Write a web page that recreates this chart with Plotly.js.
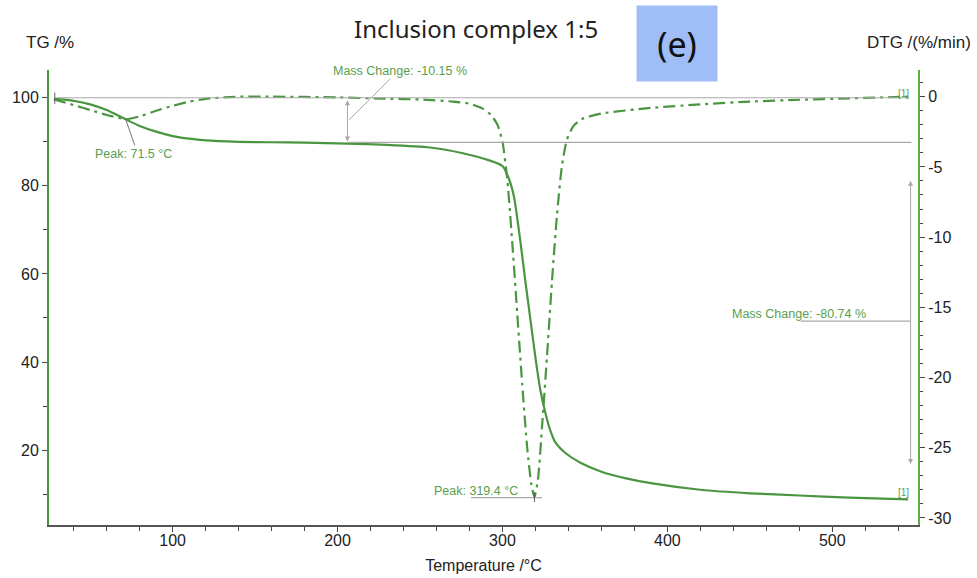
<!DOCTYPE html>
<html>
<head>
<meta charset="utf-8">
<script src="https://cdn.plot.ly/plotly-3.0.1.min.js"></script>
<style>html,body{margin:0;padding:0;background:#fff;}#chart{width:977px;height:578px;}</style>
</head>
<body>
<div id="chart"></div>
<script>
// TG curve (left axis, %)
const tgTemp = [28, 40, 50, 60, 71.5, 80, 90, 100, 110, 120, 140, 160, 180, 206, 230, 256, 276, 291, 300, 304, 307, 311, 314, 317, 320, 323, 326, 329, 332, 338, 347, 360, 375, 390, 420, 450, 480, 510, 546];
const tgValue = [99.8, 99.3, 98.5, 97.2, 95.1, 93.6, 92.3, 91.3, 90.7, 90.3, 90.0, 89.9, 89.8, 89.6, 89.3, 88.7, 87.4, 85.9, 84.5, 81.5, 77.5, 67.0, 58.0, 49.5, 41.0, 33.6, 28.5, 24.5, 21.8, 19.4, 17.2, 15.1, 13.6, 12.5, 11.0, 10.2, 9.7, 9.2, 8.8];

// DTG curve (right axis, %/min)
const dtgTemp = [28, 40, 50, 60, 71.5, 80, 90, 100, 110, 120, 140, 160, 200, 230, 250, 270, 280, 288, 293, 297, 300, 303, 306, 309, 312, 315, 317.5, 319.4, 321.5, 324, 327, 330, 333, 336, 339, 343, 348, 360, 390, 420, 450, 480, 510, 546];
const dtgValue = [-0.2, -0.6, -0.95, -1.3, -1.6, -1.4, -1.0, -0.65, -0.35, -0.15, 0.0, 0.0, -0.05, -0.15, -0.2, -0.35, -0.5, -0.85, -1.3, -2.0, -3.2, -6.0, -10.5, -15.5, -20.5, -25.0, -27.6, -28.5, -27.3, -23.5, -18.5, -13.2, -8.5, -5.0, -3.1, -2.1, -1.6, -1.2, -0.8, -0.55, -0.35, -0.22, -0.12, 0.0];

// Evaluation results
const step1 = {start: 100, end: 89.85, at: 206, label: "Mass Change: -10.15 %"};
const step2 = {at: 547.5, label: "Mass Change: -80.74 %"};
const peak1 = {t: 71.5, label: "Peak: 71.5 °C"};
const peak2 = {t: 319.4, label: "Peak: 319.4 °C"};

const xTickVals = [100, 200, 300, 400, 500];
const tgTickVals = [20, 40, 60, 80, 100];
const dtgTickVals = [-30, -25, -20, -15, -10, -5, 0];

const green = '#4a9640';
const annGreen = '#5a9e4e';
const gray = '#a8a8a8';
const lblFont = {family: 'Liberation Sans, Arial, sans-serif', size: 12.5, color: annGreen};

const traces = [
  {x: tgTemp, y: tgValue, type: 'scatter', mode: 'lines', xaxis: 'x', yaxis: 'y',
   line: {color: green, width: 2.2, shape: 'spline', smoothing: 0.6}, hoverinfo: 'skip'},
  {x: dtgTemp, y: dtgValue, type: 'scatter', mode: 'lines', xaxis: 'x', yaxis: 'y2',
   line: {color: green, width: 2.2, dash: '12px,5px,3px,5px', shape: 'spline', smoothing: 0.6}, hoverinfo: 'skip'}
];

const tgAt = (t) => {
  for (let i = 1; i < tgTemp.length; i++) {
    if (t <= tgTemp[i]) { const f = (t - tgTemp[i-1]) / (tgTemp[i] - tgTemp[i-1]); return tgValue[i-1] + f * (tgValue[i] - tgValue[i-1]); }
  }
  return tgValue[tgValue.length - 1];
};
const dtgAt = (t) => {
  for (let i = 1; i < dtgTemp.length; i++) {
    if (t <= dtgTemp[i]) { const f = (t - dtgTemp[i-1]) / (dtgTemp[i] - dtgTemp[i-1]); return dtgValue[i-1] + f * (dtgValue[i] - dtgValue[i-1]); }
  }
  return dtgValue[dtgValue.length - 1];
};

const shapes = [
  {type: 'line', xref: 'x', yref: 'y', x0: 30, x1: 546, y0: step1.start, y1: step1.start, line: {color: gray, width: 1.2}},
  {type: 'line', xref: 'x', yref: 'y', x0: step1.at, x1: 548, y0: step1.end, y1: step1.end, line: {color: gray, width: 1.2}},
  {type: 'line', xref: 'x', yref: 'y', x0: step1.at + 1, x1: 232, y0: 95, y1: 104.3, line: {color: gray, width: 1}},
  {type: 'line', xref: 'x', yref: 'y', x0: peak1.t, x1: 77, y0: tgAt(peak1.t), y1: 89.2, line: {color: '#777', width: 1}},
  {type: 'line', xref: 'x', yref: 'y2', x0: 281, x1: 324, y0: -28.55, y1: -28.55, line: {color: gray, width: 1.2}},
  {type: 'line', xref: 'x', yref: 'y2', x0: peak2.t, x1: peak2.t, y0: dtgAt(peak2.t) - 0.35, y1: dtgAt(peak2.t) + 0.35, line: {color: '#555', width: 1}},
  {type: 'line', xref: 'x', yref: 'y', x0: 481, x1: step2.at, y0: 49.3, y1: 49.3, line: {color: gray, width: 1.2}},
  {type: 'line', xref: 'x', yref: 'y', x0: 28.5, x1: 28.5, y0: 98.6, y1: 101.2, line: {color: '#666', width: 1}}
];

const annotations = [
  {xref: 'paper', yref: 'paper', x: (476 - 49) / 869, y: 1, yshift: 42, text: 'Inclusion complex 1:5', showarrow: false,
   font: {family: 'Noto Sans, Lato, sans-serif', size: 24, color: '#222'}, xanchor: 'center', yanchor: 'middle'},
  {xref: 'paper', yref: 'paper', x: (677 - 49) / 869, y: 1, yshift: 27, text: '(e)', showarrow: false,
   font: {family: 'Noto Sans, Lato, sans-serif', size: 34, color: '#111'}, bgcolor: '#9fbdf6', width: 80, height: 75,
   xanchor: 'center', yanchor: 'middle', borderpad: 0},
  {xref: 'paper', yref: 'paper', x: -49 / 869, xshift: 24, y: 1, yshift: 28, text: 'TG /%', showarrow: false,
   font: {family: 'Liberation Sans, Arial, sans-serif', size: 17, color: '#222'}, xanchor: 'left', yanchor: 'middle'},
  {xref: 'paper', yref: 'paper', x: 1, xshift: 55, y: 1, yshift: 28, text: 'DTG /(%/min)', showarrow: false,
   font: {family: 'Liberation Sans, Arial, sans-serif', size: 17, color: '#222'}, xanchor: 'right', yanchor: 'middle'},
  {xref: 'x', yref: 'y', axref: 'x', ayref: 'y', x: step1.at, y: step1.end, ax: step1.at, ay: step1.start, text: '',
   showarrow: true, arrowside: 'end+start', arrowhead: 2, arrowsize: 1, arrowwidth: 1, arrowcolor: gray, standoff: 1, startstandoff: 1},
  {xref: 'x', yref: 'y', x: 238, y: 106.1, text: step1.label, showarrow: false, font: lblFont, xanchor: 'center', yanchor: 'middle'},
  {xref: 'x', yref: 'y', x: 76, y: 87.3, text: peak1.label, showarrow: false, font: lblFont, xanchor: 'center', yanchor: 'middle'},
  {xref: 'x', yref: 'y2', x: 284, y: -28.05, text: peak2.label, showarrow: false, font: lblFont, xanchor: 'center', yanchor: 'middle'},
  {xref: 'x', yref: 'y', axref: 'x', ayref: 'y', x: step2.at, y: 16.6, ax: step2.at, ay: 81.7, text: '',
   showarrow: true, arrowside: 'end+start', arrowhead: 2, arrowsize: 1, arrowwidth: 1, arrowcolor: gray, standoff: 1, startstandoff: 1},
  {xref: 'x', yref: 'y', x: 480, y: 50.9, text: step2.label, showarrow: false, font: lblFont, xanchor: 'center', yanchor: 'middle'},
  {xref: 'x', yref: 'y', x: 543, y: 101, text: '[1]', showarrow: false, font: {family: 'Liberation Sans, Arial, sans-serif', size: 10, color: annGreen}, xanchor: 'center', yanchor: 'middle'},
  {xref: 'x', yref: 'y', x: 543, y: 10.3, text: '[1]', showarrow: false, font: {family: 'Liberation Sans, Arial, sans-serif', size: 10, color: annGreen}, xanchor: 'center', yanchor: 'middle'}
];

const tickFont = {family: 'Liberation Sans, Arial, sans-serif', size: 16, color: '#222'};
const xFont = {family: 'Liberation Sans Narrow, Liberation Sans, Arial, sans-serif', size: 16, color: '#222'};

const layout = {
  width: 977, height: 578,
  margin: {l: 49, r: 59, t: 70, b: 53},
  paper_bgcolor: '#ffffff', plot_bgcolor: '#ffffff',
  showlegend: false,
  xaxis: {
    range: [25, 552], showgrid: false, zeroline: false,
    showline: true, linecolor: '#555', linewidth: 1.5, mirror: false,
    ticks: 'outside', ticklen: 5, tickcolor: '#444', tickwidth: 1, ticklabelstandoff: -5,
    tickvals: xTickVals, ticktext: xTickVals.map(String), tickfont: xFont,
    minor: {dtick: 20, tick0: 0, ticks: 'outside', ticklen: 4, tickcolor: '#444', showgrid: false},
    title: {text: 'Temperature /°C', font: xFont, standoff: 12}
  },
  yaxis: {
    range: [3.0, 106.3], showgrid: false, zeroline: false,
    showline: true, linecolor: green, linewidth: 2,
    ticks: 'outside', ticklen: 5, tickcolor: '#444', tickwidth: 1,
    tickvals: tgTickVals, ticktext: tgTickVals.map(String), tickfont: tickFont,
    minor: {dtick: 10, tick0: 0, ticks: 'outside', ticklen: 4, tickcolor: '#444', showgrid: false}
  },
  yaxis2: {
    range: [-30.5, 1.9], overlaying: 'y', side: 'right', showgrid: false, zeroline: false,
    showline: true, linecolor: '#5cae45', linewidth: 2,
    ticks: 'outside', ticklen: 5, tickcolor: '#444', tickwidth: 1,
    tickvals: dtgTickVals, ticktext: dtgTickVals.map(String), tickfont: tickFont,
    minor: {dtick: 1, tick0: 0, ticks: 'outside', ticklen: 3, tickcolor: '#444', showgrid: false}
  },
  shapes: shapes,
  annotations: annotations
};

Plotly.newPlot('chart', traces, layout, {staticPlot: true, displayModeBar: false});
</script>
</body>
</html>
